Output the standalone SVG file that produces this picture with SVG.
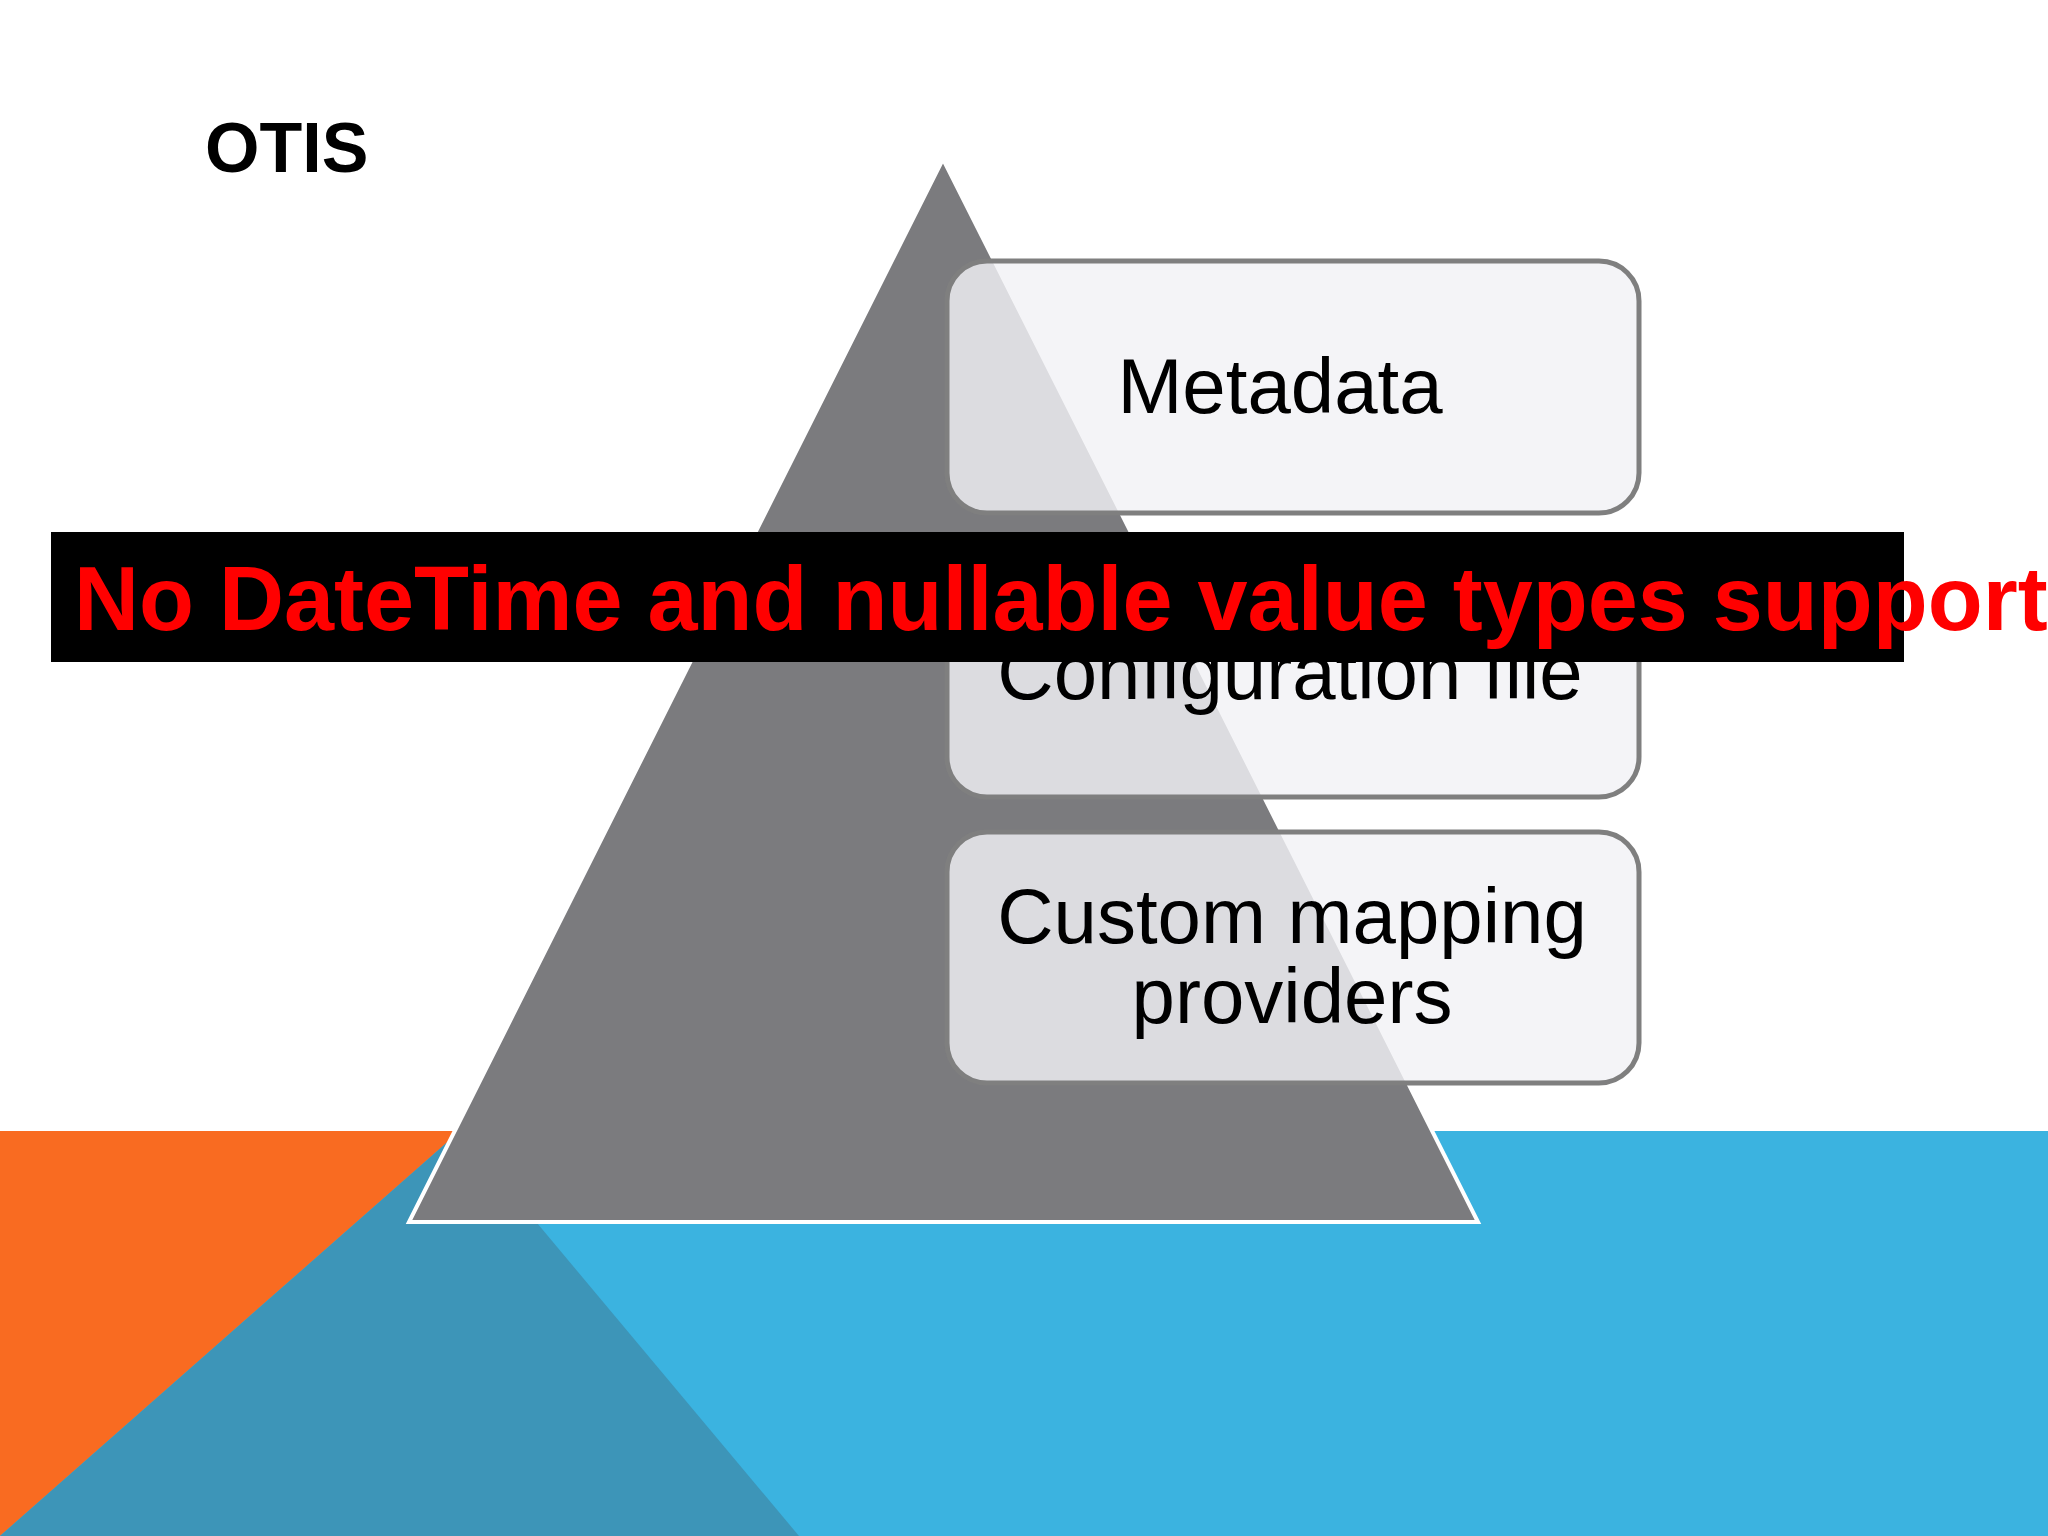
<svg xmlns="http://www.w3.org/2000/svg" width="2048" height="1536" viewBox="0 0 2048 1536">
<style>
.box{fill:#f2f1f5;fill-opacity:0.82;stroke:#7f7f7f;stroke-width:5}
.bt{font-family:"Liberation Sans",Arial,sans-serif;font-size:78px;fill:#000;text-anchor:middle}
</style>
<rect width="2048" height="1536" fill="#fff"/>
<g id="background">
<rect x="0" y="1131" width="2048" height="405" fill="#3bb3e0"/>
<polygon points="0,1131 460,1131 0,1536" fill="#f96b21"/>
<polygon points="0,1536 460,1131 799,1536" fill="#3d95b8"/>
</g>
<text id="title" x="205" y="172" font-family="Liberation Sans,Arial,sans-serif" font-weight="bold" font-size="70" fill="#000">OTIS</text>
<polygon id="pyramid" points="943,159 409,1222 1478,1222" fill="#7b7b7e" stroke="#fff" stroke-width="4"/>
<g id="node-metadata">
<rect class="box" x="947" y="261" width="692" height="252" rx="40"/>
<text class="bt" x="1280" y="413">Metadata</text>
</g>
<g id="node-config">
<rect class="box" x="947" y="546" width="692" height="251" rx="40"/>
<text class="bt" x="1290" y="699">Configuration file</text>
</g>
<g id="node-custom">
<rect class="box" x="947" y="832" width="692" height="251" rx="40"/>
<text class="bt" x="1292" y="943">Custom mapping</text>
<text class="bt" x="1292" y="1023">providers</text>
</g>
<g id="connectors"></g>
<g id="banner">
<rect x="51" y="532" width="1853" height="130" fill="#000"/>
<text x="74" y="630" font-family="Liberation Sans,Arial,sans-serif" font-weight="bold" font-size="90" fill="#ff0000">No DateTime and nullable value types support</text>
</g>
</svg>
